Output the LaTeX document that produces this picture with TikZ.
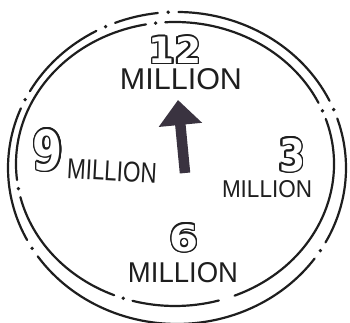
\documentclass[tikz,border=0pt]{standalone}
\usepackage{fontspec}
\usepackage{graphicx}
\usetikzlibrary{arrows.meta}
\newfontfamily\lett{Liberation Sans}
\newfontfamily\digs{DejaVu Sans}
\definecolor{ink}{HTML}{1E1E1E}
\definecolor{hand}{HTML}{3A3340}
\newcommand\hollowtxt[1]{\leavevmode\foreach \a in {0,22.5,...,337.5}{\rlap{\hspace*{\fpeval{1.5*cosd(\a)}pt}\raisebox{\fpeval{1.5*sind(\a)}pt}{\color{ink}#1}}}\textcolor{white}{#1}}
\newcommand\mil[2]{\resizebox{#1}{#2}{\lett MILLION}}
\newcommand\dig[3]{\hollowtxt{\resizebox{#1}{#2}{\digs\bfseries #3}}}
\tikzset{
  ring/.style={draw=ink, line width=2.2pt, line cap=round},
  lbl/.style={inner sep=0pt, text=ink},
  clockhand/.style={draw=hand, line width=10.5pt, -{Triangle[length=25pt,width=42pt]}}
}
\begin{document}
\begin{tikzpicture}[x=1pt,y=1pt]
\useasboundingbox (0,0) rectangle (350,323);
\fill[white] (0,0) rectangle (350,323);
\coordinate (oc) at (177,155);
\coordinate (ic) at (175,159);
% outer ring
\foreach \s/\e in {25.5/89.5, 96.5/111.5, 118.5/150.5, 157.5/207.5, 214.5/324.5, 331.5/378.5}
  \draw[ring,shift={(oc)}] (\s:169 and 156) arc[start angle=\s, end angle=\e, x radius=169, y radius=156];
\foreach \a in {22,93,115,154,211,328}
  \fill[ink,shift={(oc)}] (\a:169 and 156) circle[radius=1.9];
% inner ring
\foreach \s/\e in {25.5/93.5, 100.5/186.5, 193.5/247.5, 254.5/286, 292/378.5}
  \draw[ring,shift={(ic)}] (\s:159 and 142) arc[start angle=\s, end angle=\e, x radius=159, y radius=142];
\foreach \a in {22,97,190,251}
  \fill[ink,shift={(ic)}] (\a:159 and 142) circle[radius=1.9];
% labels
\node[lbl] (n12) at (175,273) {\dig{52pt}{27pt}{12}};
\node[lbl] (m12) at (181,244) {\mil{122pt}{21pt}};
\node[lbl] (n9) at (48,173) {\dig{30pt}{41pt}{9}};
\node[lbl,rotate=-3] (m9) at (112,152) {\mil{90pt}{20pt}};
\node[lbl] (n3) at (292,168) {\dig{26pt}{33pt}{3}};
\node[lbl] (m3) at (267,134) {\mil{90pt}{17pt}};
\node[lbl] (n6) at (184,85) {\dig{29pt}{27pt}{6}};
\node[lbl] (m6) at (183,50) {\mil{110pt}{20pt}};
% hand
\coordinate (handbase) at (185,150);
\coordinate (handtip) at (178,223);
\draw[clockhand] (handbase) -- (handtip);
\end{tikzpicture}
\end{document}
